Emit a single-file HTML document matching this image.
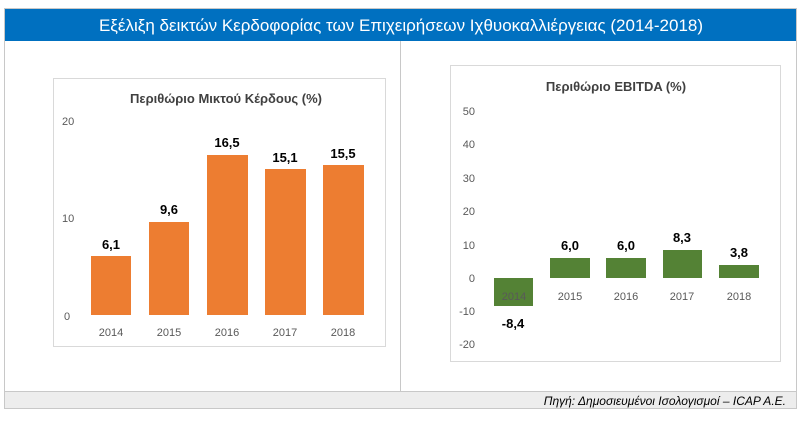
<!DOCTYPE html>
<html><head><meta charset="utf-8"><style>
html,body{margin:0;padding:0;background:#fff;}
svg{display:block;font-family:"Liberation Sans","DejaVu Sans",sans-serif;}
</style></head><body>
<svg width="803" height="421" viewBox="0 0 803 421" xmlns="http://www.w3.org/2000/svg">
<rect x="0" y="0" width="803" height="421" fill="#fff"/>
<rect x="4.5" y="8.5" width="792" height="400" fill="#fff" stroke="#c8c8c8"/>
<rect x="5" y="9" width="791" height="32" fill="#0070c0"/>
<text x="401" y="31" fill="#fff" font-size="17" text-anchor="middle">Εξέλιξη δεικτών Κερδοφορίας των Επιχειρήσεων Ιχθυοκαλλιέργειας (2014-2018)</text>
<line x1="400.5" y1="41" x2="400.5" y2="391" stroke="#c8c8c8"/>
<rect x="5" y="391" width="791" height="17" fill="#ededed"/>
<line x1="5" y1="391.5" x2="796" y2="391.5" stroke="#c8c8c8"/>
<text x="786" y="405" fill="#000" font-size="12" font-style="italic" text-anchor="end">Πηγή: Δημοσιευμένοι Ισολογισμοί – ICAP A.E.</text>

<!-- Left chart -->
<rect x="53.5" y="78.5" width="332" height="268" fill="#fff" stroke="#d9d9d9"/>
<text x="226" y="103" font-size="13" font-weight="bold" fill="#404040" text-anchor="middle">Περιθώριο Μικτού Κέρδους (%)</text>
<g font-size="11" fill="#595959">
<text x="62" y="125">20</text><text x="62" y="222">10</text><text x="64" y="320">0</text>
</g>
<g fill="#ed7d31">
<rect x="91" y="256" width="40" height="59"/>
<rect x="149" y="222" width="40" height="93"/>
<rect x="207" y="155" width="41" height="160"/>
<rect x="265" y="169" width="41" height="146"/>
<rect x="323" y="165" width="41" height="150"/>
</g>
<g font-size="13" font-weight="bold" fill="#000" text-anchor="middle">
<text x="111" y="249">6,1</text><text x="169" y="214">9,6</text><text x="227" y="147">16,5</text><text x="285" y="162">15,1</text><text x="343" y="158">15,5</text>
</g>
<g font-size="11" fill="#595959" text-anchor="middle">
<text x="111" y="336">2014</text><text x="169" y="336">2015</text><text x="227" y="336">2016</text><text x="285" y="336">2017</text><text x="343" y="336">2018</text>
</g>

<!-- Right chart -->
<rect x="450.5" y="65.5" width="330" height="296" fill="#fff" stroke="#d9d9d9"/>
<text x="616" y="91" font-size="13" font-weight="bold" fill="#404040" text-anchor="middle">Περιθώριο EBITDA (%)</text>
<g font-size="11" fill="#595959" text-anchor="end">
<text x="475" y="115">50</text><text x="475" y="148">40</text><text x="475" y="182">30</text><text x="475" y="215">20</text><text x="475" y="249">10</text><text x="475" y="282">0</text><text x="475" y="315">-10</text><text x="475" y="348">-20</text>
</g>
<g fill="#548235">
<rect x="494" y="278" width="39" height="28"/>
<rect x="550" y="258" width="40" height="20"/>
<rect x="606" y="258" width="40" height="20"/>
<rect x="663" y="250" width="39" height="28"/>
<rect x="719" y="265" width="40" height="13"/>
</g>
<g font-size="11" fill="#595959" text-anchor="middle">
<text x="514" y="300">2014</text><text x="570" y="300">2015</text><text x="626" y="300">2016</text><text x="682" y="300">2017</text><text x="739" y="300">2018</text>
</g>
<g font-size="13" font-weight="bold" fill="#000" text-anchor="middle">
<text x="513" y="328">-8,4</text><text x="570" y="250">6,0</text><text x="626" y="250">6,0</text><text x="682" y="242">8,3</text><text x="739" y="257">3,8</text>
</g>
</svg>
</body></html>
